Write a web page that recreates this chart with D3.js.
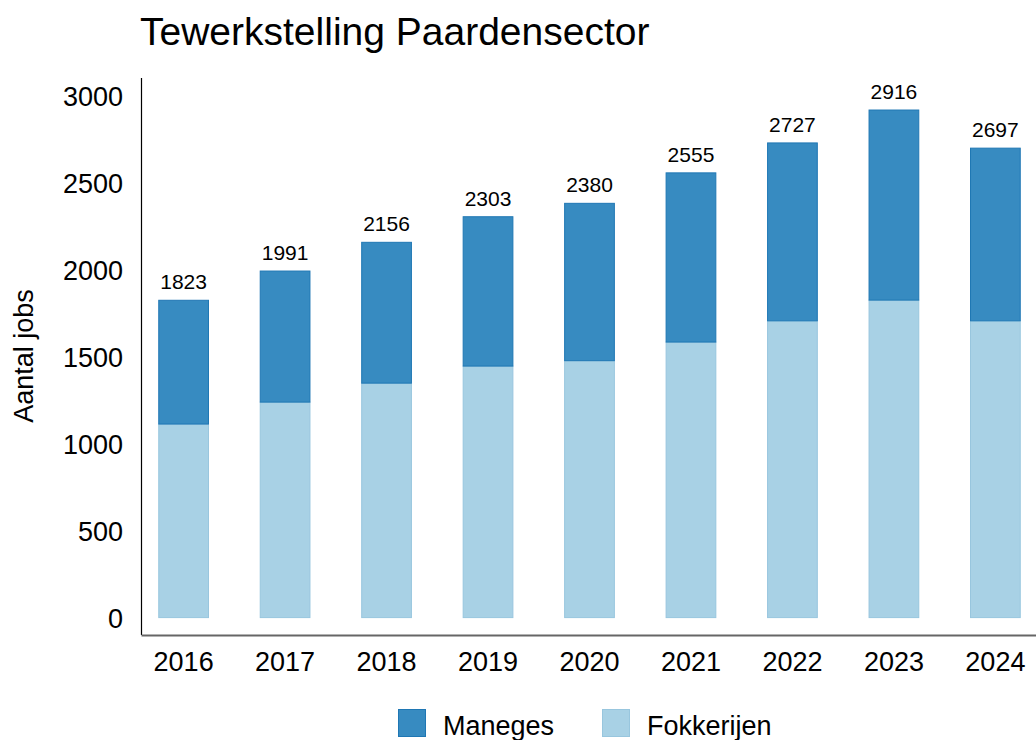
<!DOCTYPE html>
<html>
<head>
<meta charset="utf-8">
<script src="https://cdn.jsdelivr.net/npm/d3@7"></script>
<style>
  html, body { margin: 0; padding: 0; background: #fff; }
  svg { display: block; font-family: "Liberation Sans", Arial, Helvetica, sans-serif; }
</style>
</head>
<body>
<svg id="chart" width="1036" height="740"></svg>
<script>
const years = ["2016", "2017", "2018", "2019", "2020", "2021", "2022", "2023", "2024"];
const fokkerijen = [1112, 1238, 1347, 1445, 1476, 1583, 1705, 1824, 1705];
const maneges = [711, 753, 809, 858, 904, 972, 1022, 1092, 992];
const seriesNames = ["Maneges", "Fokkerijen"];
const yTicks = [0, 500, 1000, 1500, 2000, 2500, 3000];
const title = "Tewerkstelling Paardensector";
const yLabel = "Aantal jobs";

const colors = {
  Fokkerijen: { fill: "#a8d1e5", stroke: "#98c6de" },
  Maneges: { fill: "#378bc1", stroke: "#1f77b4" }
};

const svg = d3.select("#chart");

const table = years.map((y, i) => ({ year: y, Fokkerijen: fokkerijen[i], Maneges: maneges[i] }));
const stack = d3.stack().keys(["Fokkerijen", "Maneges"]);
const stacked = stack(table);

const x = d3.scaleBand().domain(years).range([141, 1038]).paddingInner(0.5).paddingOuter(0.17);
const y = d3.scaleLinear().domain([-100, 3100]).range([635, 78]);

// title
svg.append("text")
  .attr("x", 140).attr("y", 45)
  .attr("font-size", 39).attr("fill", "#000")
  .text(title);

// bars
const layers = svg.append("g").selectAll("g").data(stacked).join("g")
  .attr("fill", d => colors[d.key].fill)
  .attr("stroke", d => colors[d.key].stroke)
  .attr("stroke-width", 1);

layers.selectAll("rect").data(d => d).join("rect")
  .attr("x", d => x(d.data.year) + 0.5)
  .attr("width", x.bandwidth() - 1)
  .attr("y", d => y(d[1]))
  .attr("height", d => y(d[0]) - y(d[1]));

// totals
svg.append("g").selectAll("text").data(table).join("text")
  .attr("x", d => x(d.year) + x.bandwidth() / 2)
  .attr("y", d => y(d.Fokkerijen + d.Maneges) - 11)
  .attr("text-anchor", "middle")
  .attr("font-size", 21)
  .attr("fill", "#000")
  .text(d => d.Fokkerijen + d.Maneges);

// y axis
const yAxis = svg.append("g")
  .attr("transform", "translate(141,0)")
  .call(d3.axisLeft(y).tickValues(yTicks).tickSize(0).tickPadding(18).tickFormat(d3.format("d")));
yAxis.select(".domain").attr("stroke", "#000").attr("stroke-width", 1.2).attr("d", `M0.5,${y(3100)}V${y(-100)}`);
yAxis.selectAll("text").attr("font-size", 27).attr("fill", "#000").attr("dy", "0.36em");
yAxis.attr("font-family", null);

// x axis
const xAxis = svg.append("g")
  .attr("transform", `translate(0,${y(-100)})`)
  .call(d3.axisBottom(x).tickSize(0).tickPadding(17));
xAxis.select(".domain").attr("stroke", "#666").attr("stroke-width", 2);
xAxis.selectAll("text").attr("font-size", 27).attr("fill", "#000");
xAxis.attr("font-family", null);

// y label
svg.append("text")
  .attr("transform", "translate(33,356) rotate(-90)")
  .attr("text-anchor", "middle")
  .attr("font-size", 27)
  .attr("fill", "#000")
  .text(yLabel);

// legend
const legendX = [398, 602];
const legend = svg.append("g").selectAll("g").data(seriesNames).join("g")
  .attr("transform", (d, i) => `translate(${legendX[i]},709)`);
legend.append("rect")
  .attr("x", 0.5).attr("y", 0.5)
  .attr("width", 27).attr("height", 27)
  .attr("fill", d => colors[d].fill)
  .attr("stroke", d => colors[d].stroke)
  .attr("stroke-width", 1);
legend.append("text")
  .attr("x", 45).attr("y", 26)
  .attr("font-size", 27)
  .attr("fill", "#000")
  .text(d => d);
</script>
</body>
</html>
